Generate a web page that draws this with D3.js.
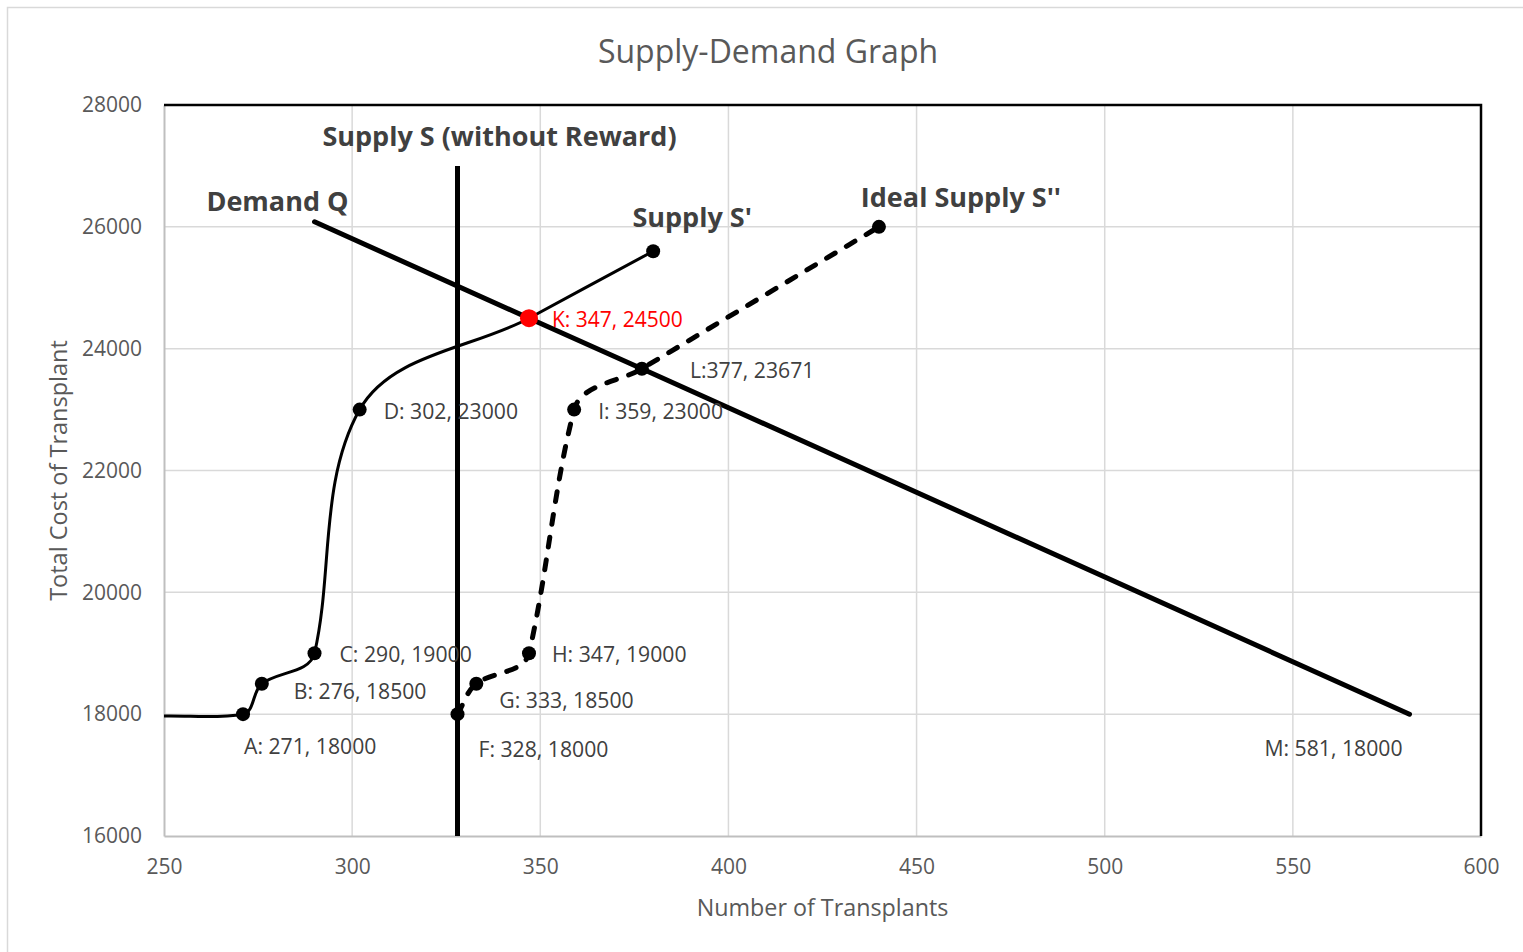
<!DOCTYPE html>
<html>
<head>
<meta charset="utf-8">
<script src="https://cdn.jsdelivr.net/npm/d3@7"></script>
<style>
  body { margin: 0; background: #fff; }
  svg { display: block; font-family: "Open Sans", sans-serif; }
</style>
</head>
<body>
<div id="chart"></div>
<script>
// values
const xTicks = [250, 300, 350, 400, 450, 500, 550, 600];
const yTicks = [16000, 18000, 20000, 22000, 24000, 26000, 28000];

const supplyS = [[328, 27000], [328, 16000]];
const demandQ = [[290, 26083], [347, 24500], [377, 23671], [581, 18000]];
const supplyPrime = [[250, 17970], [271, 18000], [276, 18500], [290, 19000], [302, 23000], [347, 24500], [380, 25600]];
const idealSupply = [[328, 18000], [333, 18500], [347, 19000], [359, 23000], [377, 23671], [440, 26000]];
const equilibrium = [347, 24500];

const pointLabels = [
    ["A: 271, 18000", 271, 18000],
    ["B: 276, 18500", 276, 18500],
    ["C: 290, 19000", 290, 19000],
    ["D: 302, 23000", 302, 23000],
    ["F: 328, 18000", 328, 18000],
    ["G: 333, 18500", 333, 18500],
    ["H: 347, 19000", 347, 19000],
    ["I: 359, 23000", 359, 23000],
    ["L:377, 23671", 377, 23671],
    ["M: 581, 18000", 581, 18000]
];
const seriesNames = [
    ["Supply S (without Reward)", 328, 27000],
    ["Demand Q", 290, 26083],
    ["Supply S'", 380, 25600],
    ["Ideal Supply S''", 440, 26000]
];

// pixel nudges for the labels (layout only)
const labelOffsets = [[1, 31, "start"], [32, 7, "start"], [25, 0, "start"], [24, 1, "start"],
    [21, 34, "start"], [23, 16, "start"], [23, 0, "start"], [24, 1, "start"], [48, 1, "start"], [-7, 33, "end"]];
const nameOffsets = [[42, -30, "middle"], [34, -21, "end"], [39, -35, "middle"], [82, -30, "middle"]];

const W = 1523, H = 952;
const margin = { top: 105, right: 42, bottom: 116, left: 164 };

const svg = d3.select('#chart').append('svg')
    .attr('width', W)
    .attr('height', H);

// outer chart frame
svg.append('rect')
    .attr('x', 7.5).attr('y', 7.5)
    .attr('width', 1540).attr('height', 970)
    .attr('fill', 'none')
    .attr('stroke', '#d9d9d9')
    .attr('stroke-width', 1.5);

var x = d3.scaleLinear().domain([250, 600]).range([margin.left, W - margin.right]);
var y = d3.scaleLinear().domain([16000, 28000]).range([H - margin.bottom, margin.top]);

// gridlines
svg.append('g')
    .selectAll('line.v')
    .data(xTicks.slice(1, -1))
    .enter().append('line')
    .attr('x1', d => x(d)).attr('x2', d => x(d))
    .attr('y1', y(28000)).attr('y2', y(16000))
    .attr('stroke', '#d9d9d9').attr('stroke-width', 1.5);
svg.append('g')
    .selectAll('line.h')
    .data(yTicks.slice(1, -1))
    .enter().append('line')
    .attr('x1', x(250)).attr('x2', x(600))
    .attr('y1', d => y(d)).attr('y2', d => y(d))
    .attr('stroke', '#d9d9d9').attr('stroke-width', 1.5);

// axes
var xAxis = svg.append('g')
    .attr('transform', 'translate(0,' + y(16000) + ')')
    .call(d3.axisBottom(x).tickValues(xTicks).tickSize(0).tickPadding(23));
var yAxis = svg.append('g')
    .attr('transform', 'translate(' + x(250) + ',0)')
    .call(d3.axisLeft(y).tickValues(yTicks).tickSize(0).tickPadding(22).tickFormat(d3.format('d')));
[xAxis, yAxis].forEach(function (a) {
    a.select('.domain').attr('stroke', '#bfbfbf').attr('stroke-width', 2);
    a.selectAll('text').attr('font-size', 21).attr('fill', '#595959').attr('font-family', '"Open Sans", sans-serif');
});

// black frame on top and right
svg.append('path')
    .attr('d', 'M' + x(250) + ',' + y(28000) + 'H' + x(600) + 'V' + y(16000))
    .attr('fill', 'none')
    .attr('stroke', '#000')
    .attr('stroke-width', 2.5);

// titles
svg.append('text')
    .attr('x', 768).attr('y', 50)
    .attr('text-anchor', 'middle').attr('dominant-baseline', 'central')
    .attr('font-size', 32).attr('fill', '#595959')
    .text('Supply-Demand Graph');
svg.append('text')
    .attr('x', (x(250) + x(600)) / 2).attr('y', 907)
    .attr('text-anchor', 'middle').attr('dominant-baseline', 'central')
    .attr('font-size', 23.3).attr('fill', '#595959')
    .text('Number of Transplants');
svg.append('text')
    .attr('transform', 'translate(58,' + (y(16000) + y(28000)) / 2 + ') rotate(-90)')
    .attr('text-anchor', 'middle').attr('dominant-baseline', 'central')
    .attr('font-size', 23.5).attr('fill', '#595959')
    .text('Total Cost of Transplant');

var straight = d3.line().x(d => x(d[0])).y(d => y(d[1]));

// spreadsheet-style smoothed line: tangent leans toward the longer neighbouring
// segment, control arms are a third of each segment
function smooth(data) {
    var pts = data.map(d => [x(d[0]), y(d[1])]);
    var n = pts.length;
    var sub = (a, b) => [a[0] - b[0], a[1] - b[1]];
    var len = v => Math.hypot(v[0], v[1]);
    var unit = v => { var l = len(v) || 1; return [v[0] / l, v[1] / l]; };
    var tan = pts.map(function (q, i) {
        if (i === 0) return unit(sub(pts[1], pts[0]));
        if (i === n - 1) return unit(sub(pts[n - 1], pts[n - 2]));
        var a = sub(q, pts[i - 1]), b = sub(pts[i + 1], q);
        var d1 = len(a), d2 = len(b);
        return unit([a[0] * d1 + b[0] * d2, a[1] * d1 + b[1] * d2]);
    });
    var p = d3.path();
    p.moveTo(pts[0][0], pts[0][1]);
    for (var i = 0; i < n - 1; i++) {
        var arm = len(sub(pts[i + 1], pts[i])) / 3;
        p.bezierCurveTo(
            pts[i][0] + tan[i][0] * arm, pts[i][1] + tan[i][1] * arm,
            pts[i + 1][0] - tan[i + 1][0] * arm, pts[i + 1][1] - tan[i + 1][1] * arm,
            pts[i + 1][0], pts[i + 1][1]);
    }
    return p.toString();
}

// Supply S'
svg.append('path')
    .attr('d', smooth(supplyPrime))
    .attr('fill', 'none').attr('stroke', '#000').attr('stroke-width', 3);

// Ideal Supply S''
svg.append('path')
    .attr('d', smooth(idealSupply))
    .attr('fill', 'none').attr('stroke', '#000').attr('stroke-width', 5)
    .attr('stroke-linecap', 'round')
    .attr('stroke-dasharray', '10,13');

// Supply S
svg.append('path')
    .attr('d', straight(supplyS))
    .attr('fill', 'none').attr('stroke', '#000').attr('stroke-width', 5);

// Demand Q
svg.append('path')
    .attr('d', straight(demandQ))
    .attr('fill', 'none').attr('stroke', '#000').attr('stroke-width', 5)
    .attr('stroke-linecap', 'round');

// markers
var markerPts = supplyPrime.slice(1, 5).concat([supplyPrime[6]]).concat(idealSupply);
svg.selectAll('.dot')
    .data(markerPts)
    .enter().append('circle')
    .attr('class', 'dot')
    .attr('cx', d => x(d[0])).attr('cy', d => y(d[1]))
    .attr('r', 7)
    .attr('fill', '#000');

svg.append('circle')
    .attr('cx', x(equilibrium[0])).attr('cy', y(equilibrium[1]))
    .attr('r', 9)
    .attr('fill', '#ff0000');
svg.append('text')
    .attr('x', x(equilibrium[0]) + 23).attr('y', y(equilibrium[1]) + 1)
    .attr('dominant-baseline', 'central')
    .attr('font-size', 21).attr('fill', '#ff0000')
    .text('K: ' + equilibrium[0] + ', ' + equilibrium[1]);

// point labels
svg.selectAll('.plabel')
    .data(pointLabels)
    .enter().append('text')
    .attr('class', 'plabel')
    .attr('x', (d, i) => x(d[1]) + labelOffsets[i][0])
    .attr('y', (d, i) => y(d[2]) + labelOffsets[i][1])
    .attr('text-anchor', (d, i) => labelOffsets[i][2])
    .attr('dominant-baseline', 'central')
    .attr('font-size', 21.2).attr('fill', '#404040')
    .text(d => d[0]);

// series names
svg.selectAll('.sname')
    .data(seriesNames)
    .enter().append('text')
    .attr('class', 'sname')
    .attr('x', (d, i) => x(d[1]) + nameOffsets[i][0])
    .attr('y', (d, i) => y(d[2]) + nameOffsets[i][1])
    .attr('text-anchor', (d, i) => nameOffsets[i][2])
    .attr('dominant-baseline', 'central')
    .attr('font-size', 27).attr('font-weight', 'bold').attr('fill', '#404040')
    .text(d => d[0]);
</script>
</body>
</html>
